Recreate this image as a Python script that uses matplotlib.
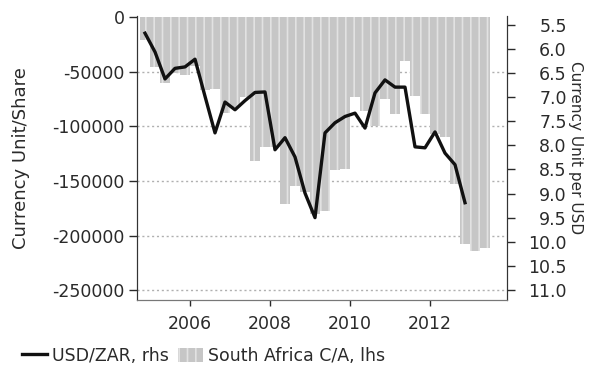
import matplotlib
matplotlib.use("Agg")
import matplotlib.pyplot as plt
from matplotlib.lines import Line2D
from matplotlib.patches import Patch

plt.rcParams['font.family'] = ['DejaVu Sans']
plt.rcParams['hatch.linewidth'] = 1.2

# Quarterly periods, 2004Q4 .. 2013Q2
quarters = [f"{2004 + (3 + i) // 4}Q{(3 + i) % 4 + 1}" for i in range(35)]
# South Africa current account (lhs), currency units
ca_values = [-21000, -46000, -60000, -51000, -53000, -45000, -67000, -66000,
             -88000, -82000, -73000, -132000, -119000, -119000, -171000, -155000,
             -160000, -180000, -178000, -140000, -139000, -73000, -86000, -100000,
             -75000, -89000, -40000, -72000, -89000, -107000, -110000, -153000,
             -208000, -214000, -211000]
# USD/ZAR (rhs), first 33 quarters
usdzar = [5.67, 6.06, 6.62, 6.40, 6.37, 6.21, 6.98, 7.74, 7.10, 7.26, 7.07,
          6.90, 6.89, 8.09, 7.84, 8.24, 8.99, 9.50, 7.74, 7.53, 7.40, 7.33,
          7.64, 6.91, 6.64, 6.79, 6.79, 8.03, 8.05, 7.72, 8.16, 8.40, 9.19]
xticks = [2006, 2008, 2010, 2012]
left_ticks = [0, -50000, -100000, -150000, -200000, -250000]
right_ticks = [5.5, 6.0, 6.5, 7.0, 7.5, 8.0, 8.5, 9.0, 9.5, 10.0, 10.5, 11.0]


def qpos(q):
    y, n = q.split("Q")
    return int(y) + (int(n) - 1) * 0.25 + 0.125


xpos = [qpos(q) for q in quarters]

W, H = 597, 370
fig = plt.figure(figsize=(W / 100, H / 100), dpi=100)
ax = fig.add_axes([137 / W, 1 - 300 / H, (507 - 137) / W, (300 - 16) / H])
tc = '#2a2a2a'
fs = 12.5

for yv in left_ticks[1:]:
    ax.axhline(yv, color='#b0b0b0', lw=1.0, ls=(0, (1.5, 2)), zorder=0)

bar_fc = '#c6c6c6'
bar_hc = '#e2e2e2'
ax.bar(xpos, ca_values, width=0.23, color=bar_fc, edgecolor=bar_hc,
       hatch='||', linewidth=0, zorder=1)
ax.set_xlim(2004.675, 2013.925)
ax.set_ylim(-259000, 900)
ax.set_yticks(left_ticks)
ax.set_yticklabels([str(v) for v in left_ticks])
ax.set_xticks(xticks)
ax.set_xticklabels([str(v) for v in xticks])
ax.set_ylabel("Currency Unit/Share", fontsize=13, color=tc)

ax2 = ax.twinx()
ax2.plot(xpos[:len(usdzar)], usdzar, color='#111111', lw=2.4, zorder=3,
         solid_joinstyle='round')
ax2.set_ylim(11.21, 5.313)
ax2.set_yticks(right_ticks)
ax2.set_yticklabels([f"{v:.1f}" for v in right_ticks])
ax2.set_ylabel("Currency Unit per USD", fontsize=11, color=tc, rotation=-90)

for a in (ax, ax2):
    a.spines['top'].set_visible(False)
    a.tick_params(labelsize=fs, colors=tc, length=6, width=1)
    a.spines['left'].set_color('#333333')
    a.spines['right'].set_color('#333333')
    a.spines['bottom'].set_color('#777777')
    a.spines['bottom'].set_linestyle((0, (1, 1)))
ax.tick_params(axis='x', length=4, pad=7)
ax.tick_params(axis='y', pad=3)
ax2.tick_params(axis='y', pad=37)
for lbl in ax2.get_yticklabels():
    lbl.set_horizontalalignment('right')
ax.yaxis.set_label_coords(-0.29, 0.5)
ax2.yaxis.set_label_coords(1.205, 0.535)

handles = [Line2D([0], [0], color='#111111', lw=2.4),
           Patch(facecolor=bar_fc, edgecolor=bar_hc, hatch='||', linewidth=0)]
fig.legend(handles, ["USD/ZAR, rhs", "South Africa C/A, lhs"], loc='center left',
           bbox_to_anchor=(0.01, 0.038), ncol=2, frameon=False, fontsize=fs,
           handlelength=1.45, handletextpad=0.3, columnspacing=0.5,
           labelcolor=tc, handleheight=0.9)

fig.savefig("out.png", dpi=100)
